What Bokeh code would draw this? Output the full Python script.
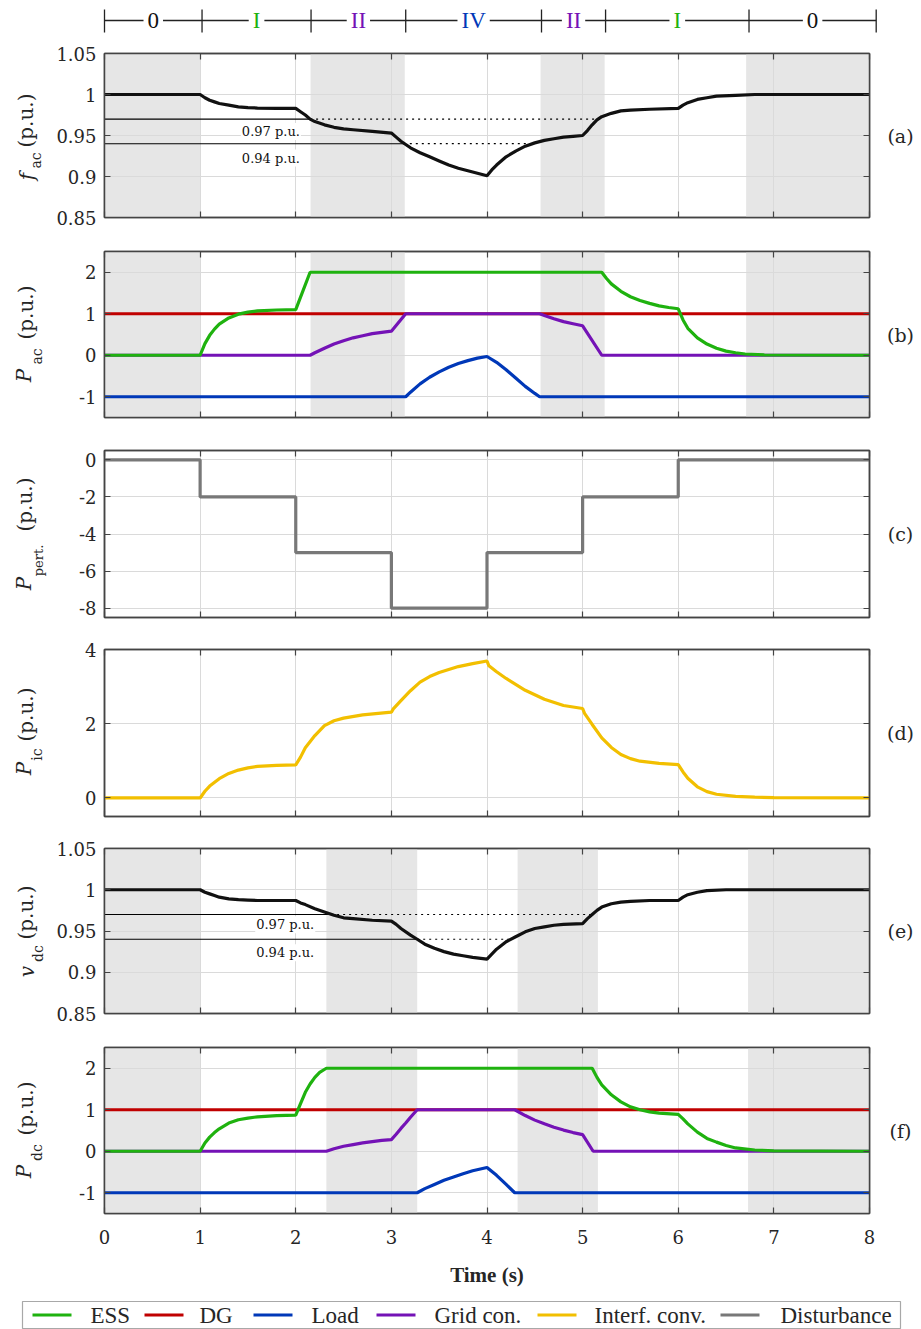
import math
from bokeh.plotting import figure
from bokeh.models import (Range1d, FixedTicker, LinearAxis, Label, CustomJSTickFormatter)
from bokeh.layouts import column, row
from bokeh.core.properties import value
from bokeh.embed import file_html
from bokeh.resources import INLINE

# ---------------------------------------------------------------- data
# operating-mode header
phase_edges = [0, 1.02, 2.16, 3.15, 4.57, 5.24, 6.74, 8.07]
phase_labels = ["0", "I", "II", "IV", "II", "I", "0"]
phase_kinds = ["k", "ess", "grid", "load", "grid", "ess", "k"]

# shaded intervals
bands_ac_left = [0, 2.155, 4.56, 6.71]
bands_ac_right = [1.0, 3.14, 5.23, 8.0]
bands_dc_left = [0, 2.32, 4.32, 6.73]
bands_dc_right = [1.0, 3.27, 5.16, 8.0]

# threshold levels
thr_levels = [0.97, 0.94]
thr_labels = ["0.97 p.u.", "0.94 p.u."]
thr_ac_down = [2.15, 3.13]
thr_ac_up = [5.15, 4.46]
thr_dc_down = [2.37, 3.27]
thr_dc_up = [5.10, 4.25]

# (a) ac frequency
t_a = [0, 1.0, 1.05, 1.1, 1.15, 1.2, 1.3, 1.4, 1.5, 1.6, 1.8, 2.0,
       2.05, 2.1, 2.15, 2.2, 2.3, 2.4, 2.5, 2.6, 2.8, 3.0,
       3.05, 3.1, 3.15, 3.2, 3.3, 3.4, 3.5, 3.6, 3.7, 3.8, 3.9, 4.0,
       4.05, 4.1, 4.2, 4.3, 4.4, 4.5, 4.6, 4.7, 4.8, 4.9, 5.0,
       5.05, 5.1, 5.15, 5.2, 5.3, 5.4, 5.5, 5.7, 6.0,
       6.05, 6.1, 6.2, 6.3, 6.4, 6.6, 6.8, 7.0, 8.0]
f_ac = [1.0, 1.0, 0.996, 0.993, 0.991, 0.989, 0.987, 0.985, 0.984, 0.9835, 0.983, 0.983,
        0.979, 0.975, 0.970, 0.967, 0.963, 0.960, 0.958, 0.957, 0.955, 0.953,
        0.948, 0.943, 0.939, 0.935, 0.929, 0.924, 0.919, 0.914, 0.910, 0.907, 0.904, 0.901,
        0.908, 0.914, 0.924, 0.931, 0.937, 0.941, 0.944, 0.946, 0.948, 0.949, 0.950,
        0.956, 0.963, 0.969, 0.973, 0.977, 0.980, 0.981, 0.982, 0.983,
        0.987, 0.990, 0.994, 0.996, 0.998, 0.999, 1.0, 1.0, 1.0]

# (b) ac-side powers
t_dg = [0, 8]
p_dg = [1, 1]
t_ess_b = [0, 1.0, 1.05, 1.1, 1.15, 1.2, 1.3, 1.4, 1.5, 1.6, 1.8, 2.0, 2.15, 5.2,
           5.25, 5.3, 5.4, 5.5, 5.6, 5.7, 5.8, 5.9, 6.0,
           6.05, 6.1, 6.2, 6.3, 6.4, 6.5, 6.6, 6.7, 6.9, 8.0]
p_ess_b = [0, 0, 0.28, 0.48, 0.63, 0.75, 0.90, 0.99, 1.04, 1.07, 1.09, 1.10, 2.0, 2.0,
           1.85, 1.72, 1.54, 1.41, 1.32, 1.25, 1.19, 1.15, 1.12,
           0.85, 0.65, 0.42, 0.27, 0.17, 0.10, 0.06, 0.03, 0.01, 0]
t_gc_b = [0, 2.15, 2.2, 2.3, 2.4, 2.5, 2.6, 2.7, 2.8, 2.9, 3.0, 3.15,
          4.55, 4.6, 4.7, 4.8, 4.9, 5.0, 5.2, 8.0]
p_gc_b = [0, 0, 0.06, 0.17, 0.27, 0.35, 0.42, 0.47, 0.52, 0.55, 0.58, 1.0,
          1.0, 0.96, 0.88, 0.81, 0.76, 0.71, 0, 0]
t_ld_b = [0, 3.15, 3.2, 3.3, 3.4, 3.5, 3.6, 3.7, 3.8, 3.9, 4.0,
          4.1, 4.2, 4.3, 4.4, 4.5, 4.55, 8.0]
p_ld_b = [-1, -1, -0.89, -0.69, -0.53, -0.40, -0.29, -0.20, -0.13, -0.07, -0.03,
          -0.17, -0.35, -0.55, -0.75, -0.92, -1.0, -1.0]

# (c) disturbance
t_pert = [0, 1, 2, 3, 4, 5, 6, 8]
p_pert = [0, -2, -5, -8, -5, -2, 0, 0]

# (d) interfacing converter
t_ic = [0, 1.0, 1.05, 1.1, 1.2, 1.3, 1.4, 1.5, 1.6, 1.8, 2.0,
        2.05, 2.1, 2.2, 2.3, 2.4, 2.5, 2.7, 3.0,
        3.02, 3.1, 3.2, 3.3, 3.4, 3.5, 3.7, 3.85, 4.0,
        4.02, 4.1, 4.2, 4.4, 4.6, 4.8, 5.0,
        5.02, 5.1, 5.2, 5.3, 5.4, 5.5, 5.6, 5.8, 6.0,
        6.05, 6.1, 6.2, 6.3, 6.4, 6.6, 6.8, 7.0, 8.0]
p_ic = [0, 0, 0.18, 0.32, 0.52, 0.66, 0.75, 0.81, 0.85, 0.88, 0.89,
        1.10, 1.35, 1.68, 1.95, 2.08, 2.15, 2.24, 2.31,
        2.40, 2.62, 2.89, 3.12, 3.27, 3.38, 3.54, 3.62, 3.69,
        3.56, 3.40, 3.22, 2.90, 2.66, 2.49, 2.41,
        2.28, 1.98, 1.62, 1.36, 1.17, 1.06, 0.99, 0.93, 0.90,
        0.70, 0.53, 0.30, 0.17, 0.10, 0.04, 0.02, 0.01, 0]

# (e) dc voltage
t_e = [0, 1.0, 1.05, 1.1, 1.15, 1.2, 1.3, 1.4, 1.5, 1.6, 1.8, 2.0,
       2.05, 2.1, 2.2, 2.3, 2.4, 2.5, 2.6, 2.8, 3.0,
       3.05, 3.1, 3.2, 3.27, 3.35, 3.45, 3.55, 3.65, 3.75, 3.85, 4.0,
       4.05, 4.1, 4.2, 4.3, 4.4, 4.5, 4.6, 4.7, 4.8, 5.0,
       5.05, 5.1, 5.15, 5.2, 5.3, 5.4, 5.5, 5.7, 6.0,
       6.05, 6.1, 6.2, 6.3, 6.5, 7.0, 8.0]
v_dc = [1.0, 1.0, 0.997, 0.995, 0.993, 0.991, 0.989, 0.988, 0.9875, 0.987, 0.987, 0.987,
        0.984, 0.982, 0.977, 0.973, 0.969, 0.966, 0.965, 0.963, 0.962,
        0.958, 0.953, 0.945, 0.940, 0.934, 0.929, 0.925, 0.922, 0.920, 0.918, 0.916,
        0.922, 0.928, 0.937, 0.943, 0.949, 0.953, 0.955, 0.957, 0.958, 0.959,
        0.965, 0.970, 0.975, 0.979, 0.983, 0.985, 0.986, 0.987, 0.987,
        0.991, 0.994, 0.997, 0.999, 1.0, 1.0, 1.0]

# (f) dc-side powers
t_ess_f = [0, 1.0, 1.05, 1.1, 1.15, 1.2, 1.3, 1.4, 1.5, 1.6, 1.8, 2.0,
           2.05, 2.1, 2.15, 2.2, 2.25, 2.32,
           5.1, 5.15, 5.2, 5.3, 5.4, 5.5, 5.6, 5.7, 5.8, 6.0,
           6.05, 6.1, 6.2, 6.3, 6.4, 6.5, 6.6, 6.8, 7.0, 8.0]
p_ess_f = [0, 0, 0.20, 0.34, 0.45, 0.54, 0.68, 0.76, 0.80, 0.83, 0.86, 0.87,
           1.15, 1.42, 1.62, 1.78, 1.90, 2.0,
           2.0, 1.78, 1.60, 1.36, 1.19, 1.07, 1.00, 0.95, 0.92, 0.89,
           0.78, 0.66, 0.46, 0.31, 0.22, 0.14, 0.08, 0.03, 0.01, 0]
t_gc_f = [0, 2.32, 2.4, 2.5, 2.6, 2.7, 2.8, 2.9, 3.0, 3.05, 3.1, 3.15, 3.2, 3.27,
          4.29, 4.4, 4.5, 4.6, 4.7, 4.8, 4.9, 5.0, 5.11, 8.0]
p_gc_f = [0, 0, 0.06, 0.12, 0.16, 0.20, 0.23, 0.26, 0.28, 0.41, 0.55, 0.68, 0.82, 1.0,
          1.0, 0.86, 0.75, 0.66, 0.58, 0.51, 0.45, 0.40, 0, 0]
t_ld_f = [0, 3.27, 3.35, 3.45, 3.55, 3.65, 3.75, 3.85, 4.0, 4.1, 4.2, 4.29, 8.0]
p_ld_f = [-1, -1, -0.90, -0.80, -0.70, -0.62, -0.54, -0.47, -0.39, -0.58, -0.80, -1.0, -1.0]

legend_names = ["ESS", "DG", "Load", "Grid con.", "Interf. conv.", "Disturbance"]
legend_kinds = ["ess", "dg", "load", "grid", "ic", "dist"]
x_ticks = [0, 1, 2, 3, 4, 5, 6, 7, 8]

# ---------------------------------------------------------------- style
COL = {"ess": "#1fb20f", "dg": "#c00000", "load": "#0038b8", "grid": "#7412b6",
       "ic": "#f2bf00", "dist": "#787878", "k": "#111111"}
FRAME_C = "#444444"
TXT_C = "#262626"
GRID_C = "#dadada"
BAND_C = "#e6e6e6"
SERIF = "DejaVu Serif"
NARROW = "Liberation Serif"
LW = 3.2

PAGE_W = 920
LEFT_W = 48            # left strip holding y-axis titles
FL = 56                # panel left border  -> frame starts at page x 104
FW = 765               # frame width        -> frame ends at page x 869
FR = 13                # panel right border
MID_W = FL + FW + FR   # 834
RIGHT_W = PAGE_W - LEFT_W - MID_W  # 38
PX = FW / 8.0
FRAME_X0 = LEFT_W + FL  # 104
HEADER_H = 40

xr = Range1d(0, 8)


def style_axis(ax):
    ax.major_tick_in = 6
    ax.major_tick_out = 0
    ax.minor_tick_line_color = None
    ax.major_tick_line_color = FRAME_C
    ax.major_tick_line_width = 1.2
    ax.axis_line_color = FRAME_C
    ax.axis_line_width = 1.5


def blank_axis(ticks):
    ax = LinearAxis(ticker=FixedTicker(ticks=ticks),
                    formatter=CustomJSTickFormatter(code="return ''"))
    ax.major_label_text_font_size = "0px"
    ax.major_label_standoff = 0
    style_axis(ax)
    return ax


def panel(y0, y1, yticks, fh, top, bottom, show_x=False):
    p = figure(frame_width=FW, frame_height=fh, x_range=xr, y_range=Range1d(y0, y1),
               output_backend="svg", toolbar_location=None,
               min_border_left=FL, min_border_right=FR,
               min_border_top=top, min_border_bottom=bottom,
               background_fill_color="white", border_fill_color="white")
    p.outline_line_color = FRAME_C
    p.outline_line_width = 1.5
    xa = p.xaxis[0]
    ya = p.yaxis[0]
    xa.ticker = FixedTicker(ticks=x_ticks)
    ya.ticker = FixedTicker(ticks=yticks)
    style_axis(xa)
    style_axis(ya)
    ya.formatter = CustomJSTickFormatter(code="return String(tick)")
    ya.major_label_text_font = SERIF
    ya.major_label_text_font_size = "18px"
    ya.major_label_text_color = TXT_C
    ya.major_label_standoff = 8
    if show_x:
        xa.formatter = CustomJSTickFormatter(code="return String(tick)")
        xa.major_label_text_font = SERIF
        xa.major_label_text_font_size = "18px"
        xa.major_label_text_color = TXT_C
        xa.major_label_standoff = 16
        xa.axis_label = "Time (s)"
        xa.axis_label_text_font = NARROW
        xa.axis_label_text_font_style = "bold"
        xa.axis_label_text_font_size = "21px"
        xa.axis_label_text_color = TXT_C
        xa.axis_label_standoff = 16
    else:
        xa.formatter = CustomJSTickFormatter(code="return ''")
        xa.major_label_text_font_size = "0px"
        xa.major_label_standoff = 0
    p.add_layout(blank_axis(x_ticks), "above")
    p.add_layout(blank_axis(yticks), "right")
    p.xgrid.ticker = FixedTicker(ticks=x_ticks)
    p.ygrid.ticker = FixedTicker(ticks=yticks)
    p.xgrid.grid_line_color = GRID_C
    p.ygrid.grid_line_color = GRID_C
    p.grid.grid_line_width = 1
    return p


def add_bands(p, lefts, rights, y0, y1):
    p.quad(left=lefts, right=rights, bottom=[y0] * len(lefts), top=[y1] * len(lefts),
           fill_color=BAND_C, line_color=None, level="image")


def add_thresholds(p, down, up, lab_x, lab_ys):
    p.segment(x0=[0, 0], y0=thr_levels, x1=down, y1=thr_levels,
              line_color="black", line_width=1.1)
    p.segment(x0=down, y0=thr_levels, x1=up, y1=thr_levels,
              line_color="black", line_width=1.2, line_dash="2 4")
    for txt, ly in zip(thr_labels, lab_ys):
        p.add_layout(Label(x=lab_x, y=ly, text=txt, text_align="center",
                           text_baseline="middle", text_font=SERIF,
                           text_font_size="13px", text_color="#111111",
                           background_fill_color="white", padding=1))


# ---------------------------------------------------------------- layout constants
panels_geom = {  # top border, frame height, bottom border
    "a": (13, 164, 17), "b": (17, 166, 16), "c": (17, 167, 15),
    "d": (17, 167, 15), "e": (17, 165, 17), "f": (17, 166, 81)}
MID_H = sum(sum(v) for v in panels_geom.values())
frame_centers = {}
cur = HEADER_H
for k in "abcdef":
    tb, fh, bb = panels_geom[k]
    frame_centers[k] = cur + tb + fh / 2
    cur += tb + fh + bb

# y-axis titles: (text, style, size px, page x centre, page y centre)
YLAB = [
    ("f", "italic", 20, 26, 176), ("ac", "normal", 14, 35, 160), ("(p.u.)", "normal", 20, 25, 120),
    ("P", "italic", 20, 23, 375), ("ac", "normal", 14, 36, 356), ("(p.u.)", "normal", 20, 25, 312),
    ("P", "italic", 20, 23, 583), ("pert.", "normal", 13, 38, 560), ("(p.u.)", "normal", 20, 24, 504),
    ("P", "italic", 20, 23, 768), ("ic", "normal", 14, 36, 754), ("(p.u.)", "normal", 20, 25, 714),
    ("v", "italic", 20, 26, 971), ("dc", "normal", 14, 37, 953), ("(p.u.)", "normal", 20, 25, 912),
    ("P", "italic", 20, 23, 1171), ("dc", "normal", 14, 36, 1152), ("(p.u.)", "normal", 20, 25, 1108),
]
TAGS = ["(a)", "(b)", "(c)", "(d)", "(e)", "(f)"]

# ---------------------------------------------------------------- header
hdr = figure(frame_width=775, frame_height=HEADER_H,
             x_range=Range1d(-2 / PX, 8 + 8 / PX), y_range=Range1d(HEADER_H, 0),
             output_backend="svg", toolbar_location=None,
             x_axis_type=None, y_axis_type=None,
             min_border_left=FRAME_X0 - 2, min_border_right=PAGE_W - (FRAME_X0 - 2) - 775,
             min_border_top=0, min_border_bottom=0)
hdr.outline_line_color = None
hdr.grid.visible = False
hdr.segment(x0=[phase_edges[0]], y0=[20], x1=[phase_edges[-1]], y1=[20],
            line_color="#222222", line_width=1.3)
hdr.segment(x0=phase_edges, y0=[9] * len(phase_edges), x1=phase_edges,
            y1=[32] * len(phase_edges), line_color="#222222", line_width=1.3)
for i, lab in enumerate(phase_labels):
    mid = (phase_edges[i] + phase_edges[i + 1]) / 2
    hdr.add_layout(Label(x=mid, y=20, text=lab, text_align="center",
                         text_baseline="middle", text_font=NARROW,
                         text_font_size="23px", text_color=COL[phase_kinds[i]],
                         background_fill_color="white", padding=4))

# ---------------------------------------------------------------- (a)
tb, fh, bb = panels_geom["a"]
pa = panel(0.85, 1.05, [0.85, 0.9, 0.95, 1, 1.05], fh, tb, bb)
add_bands(pa, bands_ac_left, bands_ac_right, 0.85, 1.05)
add_thresholds(pa, thr_ac_down, thr_ac_up, 1.74, [0.955, 0.9225])
pa.line(t_a, f_ac, line_color=COL["k"], line_width=LW)

# ---------------------------------------------------------------- (b)
tb, fh, bb = panels_geom["b"]
pb = panel(-1.5, 2.5, [-1, 0, 1, 2], fh, tb, bb)
add_bands(pb, bands_ac_left, bands_ac_right, -1.5, 2.5)
pb.line(t_dg, p_dg, line_color=COL["dg"], line_width=LW)
pb.line(t_ld_b, p_ld_b, line_color=COL["load"], line_width=LW)
pb.line(t_gc_b, p_gc_b, line_color=COL["grid"], line_width=LW)
pb.line(t_ess_b, p_ess_b, line_color=COL["ess"], line_width=LW)

# ---------------------------------------------------------------- (c)
tb, fh, bb = panels_geom["c"]
pc = panel(-8.5, 0.5, [-8, -6, -4, -2, 0], fh, tb, bb)
pc.step(t_pert, p_pert, mode="after", line_color=COL["dist"], line_width=LW)

# ---------------------------------------------------------------- (d)
tb, fh, bb = panels_geom["d"]
pd = panel(-0.5, 4, [0, 2, 4], fh, tb, bb)
pd.line(t_ic, p_ic, line_color=COL["ic"], line_width=LW)

# ---------------------------------------------------------------- (e)
tb, fh, bb = panels_geom["e"]
pe = panel(0.85, 1.05, [0.85, 0.9, 0.95, 1, 1.05], fh, tb, bb)
add_bands(pe, bands_dc_left, bands_dc_right, 0.85, 1.05)
add_thresholds(pe, thr_dc_down, thr_dc_up, 1.89, [0.9575, 0.9235])
pe.line(t_e, v_dc, line_color=COL["k"], line_width=LW)

# ---------------------------------------------------------------- (f)
tb, fh, bb = panels_geom["f"]
pf = panel(-1.5, 2.5, [-1, 0, 1, 2], fh, tb, bb, show_x=True)
add_bands(pf, bands_dc_left, bands_dc_right, -1.5, 2.5)
pf.line(t_dg, p_dg, line_color=COL["dg"], line_width=LW)
pf.line(t_ld_f, p_ld_f, line_color=COL["load"], line_width=LW)
pf.line(t_gc_f, p_gc_f, line_color=COL["grid"], line_width=LW)
pf.line(t_ess_f, p_ess_f, line_color=COL["ess"], line_width=LW)

# ---------------------------------------------------------------- side strips
def strip(w):
    s = figure(frame_width=w, frame_height=MID_H, x_range=Range1d(0, w),
               y_range=Range1d(0, MID_H), output_backend="svg", toolbar_location=None,
               x_axis_type=None, y_axis_type=None, min_border=0)
    s.outline_line_color = None
    s.grid.visible = False
    return s


left = strip(LEFT_W)
for text, style, size, px, py in YLAB:
    left.text(x=[px], y=[MID_H - (py - HEADER_H)], text=[text], angle=math.pi / 2,
              text_align="center", text_baseline="middle",
              text_font=value(SERIF), text_font_style=style,
              text_font_size=value(f"{size}px"), text_color=TXT_C)

right = strip(RIGHT_W)
right.text(x=[900 - (LEFT_W + MID_W)] * 6,
           y=[MID_H - (frame_centers[k] - HEADER_H) for k in "abcdef"],
           text=TAGS, text_align="center", text_baseline="middle",
           text_font=value(SERIF), text_font_size=value("19px"), text_color=TXT_C)

# ---------------------------------------------------------------- legend
LEG_H = 36
lg = figure(frame_width=PAGE_W, frame_height=LEG_H, x_range=Range1d(0, PAGE_W),
            y_range=Range1d(LEG_H, 0), output_backend="svg", toolbar_location=None,
            x_axis_type=None, y_axis_type=None, min_border=0)
lg.outline_line_color = None
lg.grid.visible = False
lg.quad(left=[22], right=[900], top=[7], bottom=[34], fill_color="white",
        line_color="#a8a8a8", line_width=1.2)
sample_x0 = [32, 144, 253, 376, 537, 720]
text_x0 = [90, 199, 311, 434, 594, 780]
lg.segment(x0=sample_x0, y0=[20.5] * 6, x1=[x + 39 for x in sample_x0], y1=[20.5] * 6,
           line_color=[COL[k] for k in legend_kinds], line_width=LW)
lg.text(x=text_x0, y=[20.5] * 6, text=legend_names, text_align="left",
        text_baseline="middle", text_font=value(NARROW),
        text_font_size=value("23px"), text_color=TXT_C)

layout = column(row(hdr),
                row(left, column(pa, pb, pc, pd, pe, pf, spacing=0), right, spacing=0),
                row(lg), spacing=0)
open("out.html", "w").write(file_html(layout, INLINE))
